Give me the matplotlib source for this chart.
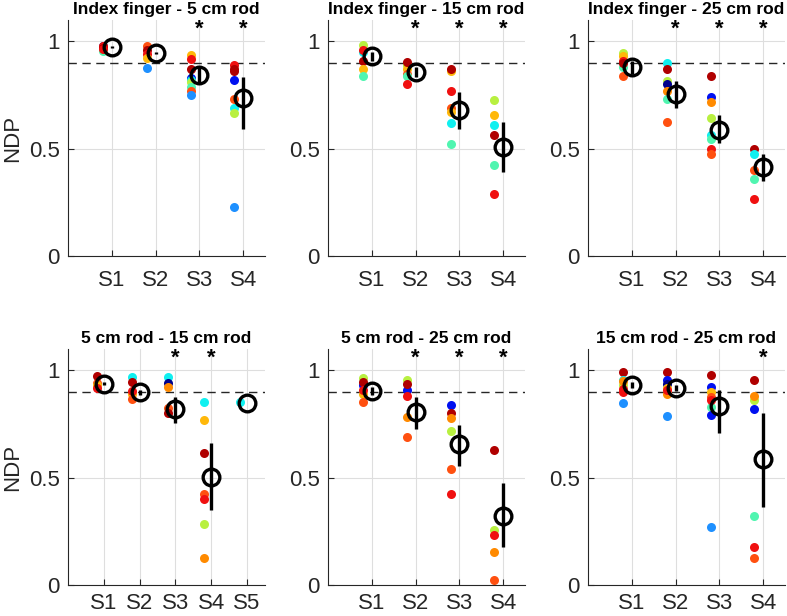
import matplotlib
matplotlib.use("Agg")
import matplotlib.pyplot as plt

plt.rcParams['font.family'] = ['Liberation Sans', 'DejaVu Sans']

# jet-like colours, one per participant (dark blue ... dark red)
palette = ['#00008c', '#0010f0', '#1e90ff', '#10f0f0', '#50f5b0', '#b8f040',
           '#ffb80a', '#ff8a00', '#ff5010', '#f01010', '#b00000']

titles = ['Index finger - 5 cm rod', 'Index finger - 15 cm rod',
          'Index finger - 25 cm rod', '5 cm rod - 15 cm rod',
          '5 cm rod - 25 cm rod', '15 cm rod - 25 cm rod']

# ---- Index finger - 5 cm rod
if5_vals = [[0.98, 0.98, 0.97, 0.955, 0.965],
            [0.98, 0.96, 0.94, 0.925, 0.875],
            [0.935, 0.92, 0.87, 0.83, 0.82, 0.81, 0.79, 0.77, 0.75],
            [0.89, 0.87, 0.86, 0.82, 0.73, 0.69, 0.665, 0.23]]
if5_cols = [[0, 9, 10, 4, 9],
            [8, 10, 9, 6, 2],
            [6, 9, 10, 1, 3, 5, 4, 8, 2],
            [9, 10, 10, 1, 8, 3, 5, 2]]
if5_mean = [0.975, 0.945, 0.845, 0.735]
if5_lo = [0.97, 0.94, 0.80, 0.59]
if5_hi = [0.98, 0.95, 0.885, 0.835]
if5_star = [3, 4]

# ---- Index finger - 15 cm rod
if15_vals = [[0.985, 0.95, 0.96, 0.91, 0.87, 0.84],
             [0.89, 0.87, 0.85, 0.84, 0.905, 0.80],
             [0.86, 0.87, 0.77, 0.69, 0.67, 0.62, 0.52],
             [0.725, 0.655, 0.61, 0.565, 0.425, 0.29]]
if15_cols = [[5, 3, 9, 10, 6, 4],
             [5, 6, 8, 4, 10, 9],
             [6, 10, 9, 8, 6, 3, 4],
             [5, 6, 3, 10, 4, 9]]
if15_mean = [0.93, 0.857, 0.68, 0.508]
if15_lo = [0.91, 0.835, 0.59, 0.39]
if15_hi = [0.95, 0.88, 0.765, 0.625]
if15_star = [2, 3, 4]

# ---- Index finger - 25 cm rod
if25_vals = [[0.945, 0.93, 0.88, 0.91, 0.90, 0.84],
             [0.90, 0.87, 0.815, 0.80, 0.77, 0.73, 0.625],
             [0.84, 0.74, 0.72, 0.645, 0.565, 0.545, 0.50, 0.475],
             [0.50, 0.475, 0.40, 0.36, 0.265]]
if25_cols = [[5, 6, 4, 9, 10, 8],
             [3, 10, 5, 0, 7, 4, 8],
             [10, 1, 7, 5, 3, 4, 9, 8],
             [10, 3, 8, 4, 9]]
if25_mean = [0.88, 0.757, 0.588, 0.416]
if25_lo = [0.85, 0.69, 0.525, 0.35]
if25_hi = [0.91, 0.815, 0.655, 0.475]
if25_star = [2, 3, 4]

# ---- 5 cm rod - 15 cm rod
r5_15_vals = [[0.94, 0.93, 0.975, 0.92],
              [0.97, 0.89, 0.945, 0.905, 0.865],
              [0.97, 0.94, 0.925, 0.825, 0.80],
              [0.853, 0.771, 0.616, 0.424, 0.40, 0.285, 0.128],
              [0.853]]
r5_15_cols = [[8, 6, 10, 9],
              [3, 6, 10, 9, 8],
              [3, 0, 7, 8, 10],
              [3, 6, 10, 8, 9, 5, 7],
              [3]]
r5_15_mean = [0.938, 0.899, 0.822, 0.505, 0.848]
r5_15_lo = [0.93, 0.885, 0.755, 0.35, 0.848]
r5_15_hi = [0.945, 0.91, 0.876, 0.663, 0.848]
r5_15_star = [3, 4]

# ---- 5 cm rod - 25 cm rod
r5_25_vals = [[0.966, 0.93, 0.89, 0.946, 0.907, 0.853],
              [0.954, 0.907, 0.938, 0.881, 0.783, 0.69],
              [0.837, 0.802, 0.78, 0.717, 0.543, 0.423],
              [0.628, 0.257, 0.231, 0.156, 0.022]]
r5_25_cols = [[5, 1, 6, 10, 9, 8],
              [5, 1, 10, 9, 7, 8],
              [1, 10, 7, 5, 8, 9],
              [10, 5, 9, 7, 8]]
r5_25_mean = [0.904, 0.806, 0.656, 0.322]
r5_25_lo = [0.885, 0.729, 0.556, 0.176]
r5_25_hi = [0.925, 0.876, 0.748, 0.477]
r5_25_star = [2, 3, 4]

# ---- 15 cm rod - 25 cm rod
r15_25_vals = [[0.992, 0.955, 0.93, 0.949, 0.915, 0.90, 0.85],
               [0.992, 0.954, 0.935, 0.92, 0.892, 0.91, 0.788],
               [0.98, 0.923, 0.90, 0.83, 0.876, 0.864, 0.791, 0.272],
               [0.957, 0.861, 0.881, 0.822, 0.322, 0.176, 0.128]]
r15_25_cols = [[10, 3, 5, 7, 9, 9, 2],
               [10, 1, 0, 6, 7, 9, 2],
               [10, 1, 6, 4, 8, 9, 1, 2],
               [10, 5, 7, 1, 4, 9, 8]]
r15_25_mean = [0.933, 0.919, 0.833, 0.585]
r15_25_lo = [0.92, 0.905, 0.71, 0.365]
r15_25_hi = [0.945, 0.93, 0.907, 0.802]
r15_25_star = [4]

panels = [
    (if5_vals, if5_cols, if5_mean, if5_lo, if5_hi, if5_star),
    (if15_vals, if15_cols, if15_mean, if15_lo, if15_hi, if15_star),
    (if25_vals, if25_cols, if25_mean, if25_lo, if25_hi, if25_star),
    (r5_15_vals, r5_15_cols, r5_15_mean, r5_15_lo, r5_15_hi, r5_15_star),
    (r5_25_vals, r5_25_cols, r5_25_mean, r5_25_lo, r5_25_hi, r5_25_star),
    (r15_25_vals, r15_25_cols, r15_25_mean, r15_25_lo, r15_25_hi, r15_25_star),
]

fig = plt.figure(figsize=(7.87, 6.16), dpi=100)
W, H = 787.0, 616.0
lefts = [68, 328, 588]
tops = [20, 349]
axw, axh = 197, 236

for k, (vals, cols, mean, lo, hi, star) in enumerate(panels):
    row, col = divmod(k, 3)
    ax = fig.add_axes([lefts[col] / W, 1 - (tops[row] + axh) / H, axw / W, axh / H])
    n = len(vals)
    ax.set_xlim(0, n + 0.5)
    ax.set_ylim(0, 1.1)
    ax.set_xticks(range(1, n + 1))
    ax.set_xticklabels(['S%d' % (i + 1) for i in range(n)])
    ax.set_yticks([0, 0.5, 1])
    ax.set_yticklabels(['0', '0.5', '1'])
    ax.grid(True, color='#dedede', lw=0.8)
    ax.set_axisbelow(True)
    for s in ['top', 'right']:
        ax.spines[s].set_visible(False)
    for s in ['left', 'bottom']:
        ax.spines[s].set_color('#262626')
        ax.spines[s].set_linewidth(0.8)
    ax.tick_params(direction='in', length=4, width=0.8, color='#262626',
                   labelsize=16, labelcolor='#262626', pad=6)
    # bottom row labels sit close to the figure edge
    ax.tick_params(axis='x', pad=10 if row == 0 else 6)
    ax.axhline(0.9, color='#262626', lw=1, dashes=(6, 4), zorder=1)

    for i in range(n):
        x = i + 1
        for v, c in zip(vals[i], cols[i]):
            ax.plot(x - 0.2, v, 'o', ms=6.5, color=palette[c], mec='none', zorder=2)
        ax.plot([x, x], [lo[i], hi[i]], color='k', lw=2.4, solid_capstyle='butt', zorder=3)
        ax.plot(x, mean[i], 'o', ms=12, mfc='none', mec='k', mew=2.4, zorder=4)

    for s in star:
        ax.text(s, 1.055, '*', ha='center', va='center', fontsize=16, fontweight='bold')

    ax.set_title(titles[k], fontsize=12.5, fontweight='bold', pad=4)
    if col == 0:
        ax.set_ylabel('NDP', fontsize=16, color='#262626', labelpad=4)

fig.savefig('out.png', dpi=100)
